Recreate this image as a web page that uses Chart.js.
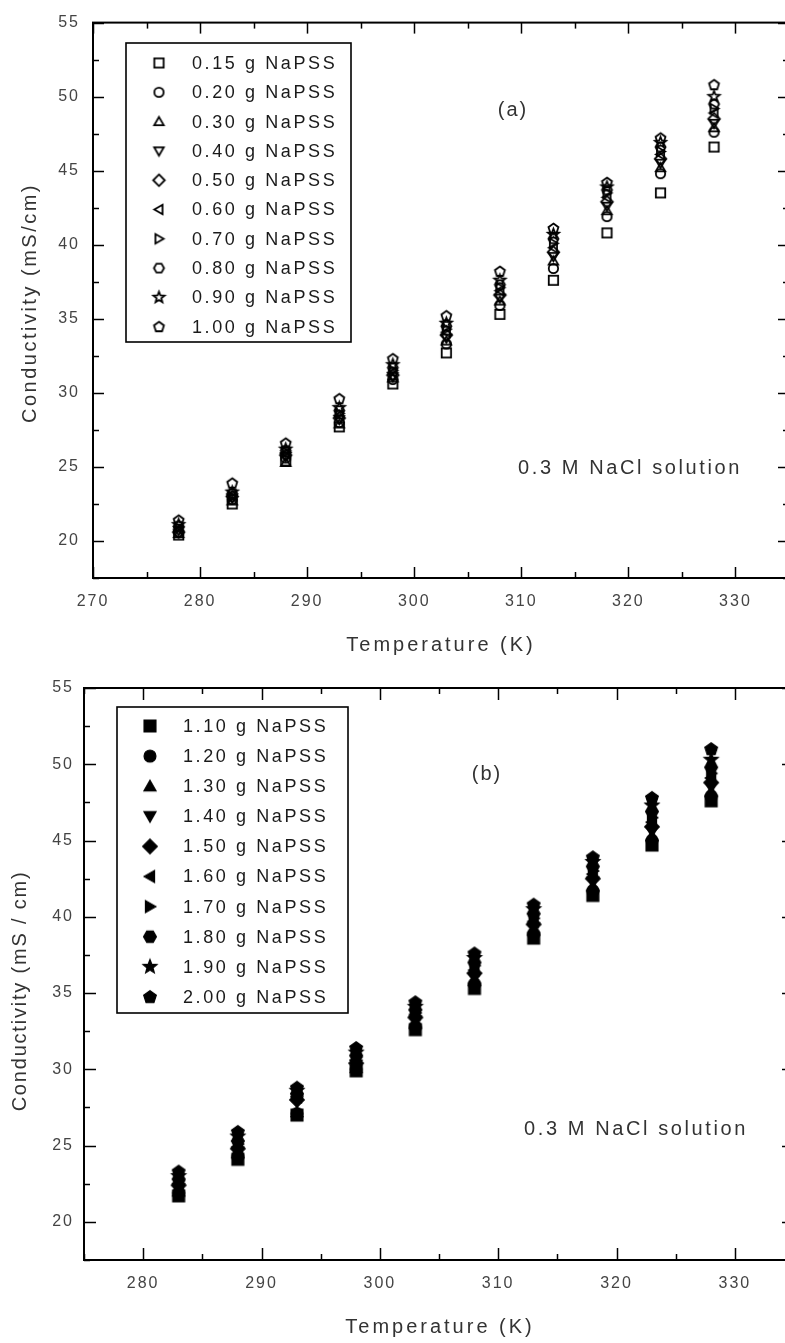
<!DOCTYPE html>
<html>
<head>
<meta charset="utf-8">
<script src="https://cdn.jsdelivr.net/npm/chart.js@4.4.0/dist/chart.umd.min.js"></script>
<style>
  html, body { margin: 0; padding: 0; background: #fff; overflow: hidden; width: 785px; height: 1343px; }
  #chartA { position: absolute; left: 0; top: 0; }
  #chartB { position: absolute; left: 0; top: 660px; }
</style>
</head>
<body>
<canvas id="chartA" width="800" height="660"></canvas>
<canvas id="chartB" width="800" height="683"></canvas>
<script>
// Temperaturas (K)
var temperaturesA = [278, 283, 288, 293, 298, 303, 308, 313, 318, 323, 328];
var temperaturesB = [283, 288, 293, 298, 303, 308, 313, 318, 323, 328];

// Ticks
var xTicksA = [270, 280, 290, 300, 310, 320, 330];
var xTicksB = [280, 290, 300, 310, 320, 330];
var yTicks = [20, 25, 30, 35, 40, 45, 50, 55];

// Leyendas
var labelsA = ['0.15 g NaPSS', '0.20 g NaPSS', '0.30 g NaPSS', '0.40 g NaPSS', '0.50 g NaPSS',
               '0.60 g NaPSS', '0.70 g NaPSS', '0.80 g NaPSS', '0.90 g NaPSS', '1.00 g NaPSS'];
var labelsB = ['1.10 g NaPSS', '1.20 g NaPSS', '1.30 g NaPSS', '1.40 g NaPSS', '1.50 g NaPSS',
               '1.60 g NaPSS', '1.70 g NaPSS', '1.80 g NaPSS', '1.90 g NaPSS', '2.00 g NaPSS'];

// Conductividad (mS/cm), panel (a)
var c015 = [20.4, 22.5, 25.4, 27.7, 30.6, 32.7, 35.3, 37.6, 40.8, 43.5, 46.6];
var c020 = [20.6, 22.8, 25.6, 28.0, 30.9, 33.3, 35.9, 38.4, 41.9, 44.8, 47.6];
var c030 = [20.5, 22.7, 25.3, 27.9, 31.0, 33.5, 36.2, 38.9, 42.3, 45.2, 47.9];
var c040 = [20.7, 22.9, 25.7, 28.2, 31.1, 33.7, 36.4, 39.2, 42.6, 45.5, 48.2];
var c050 = [20.6, 23.0, 25.8, 28.3, 31.2, 33.9, 36.6, 39.5, 42.9, 45.8, 48.5];
var c060 = [20.8, 23.1, 25.9, 28.5, 31.4, 34.1, 36.9, 39.8, 43.2, 46.1, 48.9];
var c070 = [20.9, 23.0, 26.0, 28.6, 31.5, 34.3, 37.1, 40.1, 43.5, 46.3, 49.2];
var c080 = [21.0, 23.2, 26.1, 28.8, 31.7, 34.5, 37.3, 40.4, 43.7, 46.6, 49.5];
var c090 = [21.1, 23.3, 26.2, 29.0, 31.9, 34.7, 37.6, 40.7, 43.9, 46.9, 50.0];
var c100 = [21.4, 23.9, 26.6, 29.6, 32.3, 35.2, 38.2, 41.1, 44.2, 47.2, 50.8];

// Conductividad (mS/cm), panel (b)
var c110 = [21.7, 24.1, 27.0, 29.9, 32.6, 35.3, 38.6, 41.4, 44.7, 47.6];
var c120 = [21.9, 24.3, 27.1, 30.0, 32.8, 35.6, 38.9, 41.7, 45.0, 47.9];
var c130 = [22.0, 24.5, 27.2, 30.1, 33.0, 35.8, 39.1, 42.0, 45.3, 48.2];
var c140 = [22.2, 24.6, 27.9, 30.3, 33.2, 36.0, 39.3, 42.3, 45.6, 48.5];
var c150 = [22.4, 24.8, 28.0, 30.4, 33.4, 36.3, 39.5, 42.5, 45.9, 48.8];
var c160 = [22.5, 24.9, 28.2, 30.6, 33.6, 36.5, 39.7, 42.8, 46.2, 49.1];
var c170 = [22.7, 25.1, 28.3, 30.8, 33.7, 36.8, 39.9, 43.0, 46.5, 49.4];
var c180 = [22.8, 25.3, 28.4, 30.9, 33.9, 37.0, 40.2, 43.3, 46.9, 49.8];
var c190 = [23.0, 25.6, 28.6, 31.1, 34.1, 37.3, 40.5, 43.6, 47.3, 50.3];
var c200 = [23.3, 25.9, 28.8, 31.4, 34.4, 37.6, 40.8, 43.9, 47.8, 51.0];

var seriesA = [c015, c020, c030, c040, c050, c060, c070, c080, c090, c100];
var seriesB = [c110, c120, c130, c140, c150, c160, c170, c180, c190, c200];

var shapes = ['square', 'circle', 'up', 'down', 'diamond', 'left', 'right', 'hexagon', 'star', 'pentagon'];

// Marcadores dibujados en un canvas pequeño
function polygon(g, cx, cy, r, n, startDeg) {
  for (var i = 0; i < n; i++) {
    var a = (startDeg + i * 360 / n) * Math.PI / 180;
    var px = cx + r * Math.cos(a), py = cy + r * Math.sin(a);
    if (i === 0) g.moveTo(px, py); else g.lineTo(px, py);
  }
  g.closePath();
}

function makeMarker(shape, filled) {
  var size = filled ? 14 : 11;
  var c = document.createElement('canvas');
  c.width = c.height = size + 6;
  var g = c.getContext('2d');
  var m = c.width / 2, r = size / 2;
  g.lineWidth = filled ? 1.2 : 1.8;
  g.strokeStyle = '#000';
  g.fillStyle = '#000';
  g.beginPath();
  switch (shape) {
    case 'square': g.rect(m - r * 0.85, m - r * 0.85, r * 1.7, r * 1.7); break;
    case 'circle': g.arc(m, m, r * 0.85, 0, Math.PI * 2); break;
    case 'up': polygon(g, m, m + r * 0.15, r, 3, -90); break;
    case 'down': polygon(g, m, m - r * 0.15, r, 3, 90); break;
    case 'left': polygon(g, m + r * 0.15, m, r, 3, 180); break;
    case 'right': polygon(g, m - r * 0.15, m, r, 3, 0); break;
    case 'diamond': polygon(g, m, m, r * 1.05, 4, -90); break;
    case 'hexagon': polygon(g, m, m, r * 0.92, 6, 0); break;
    case 'pentagon': polygon(g, m, m + r * 0.05, r * 0.95, 5, -90); break;
    case 'star':
      for (var i = 0; i < 10; i++) {
        var a = (-90 + i * 36) * Math.PI / 180;
        var rr = i % 2 === 0 ? r * 1.05 : r * 0.45;
        var px = m + rr * Math.cos(a), py = m + rr * Math.sin(a);
        if (i === 0) g.moveTo(px, py); else g.lineTo(px, py);
      }
      g.closePath();
      break;
  }
  if (filled) g.fill();
  g.stroke();
  return c;
}

function buildSets(temps, series, labels, filled) {
  return series.map(function (vals, k) {
    return {
      label: labels[k],
      data: temps.map(function (t, i) { return { x: t, y: vals[i] }; }),
      pointStyle: makeMarker(shapes[k], filled),
      pointRadius: 5,
      showLine: false
    };
  });
}

// Marco, ticks interiores, leyenda y textos
var panelPlugin = {
  id: 'panel',
  beforeLayout: function (chart) { chart.ctx.letterSpacing = '2px'; },
  beforeDraw: function (chart) { chart.ctx.letterSpacing = '2px'; },
  afterDraw: function (chart, args, o) {
    var ctx = chart.ctx, a = chart.chartArea;
    var xs = chart.scales.x, ys = chart.scales.y;
    ctx.save();
    ctx.strokeStyle = '#000';
    ctx.lineWidth = 1.5;
    function seg(x1, y1, x2, y2) { ctx.beginPath(); ctx.moveTo(x1, y1); ctx.lineTo(x2, y2); ctx.stroke(); }
    var majX = xs.ticks.map(function (t) { return t.value; });
    var majY = ys.ticks.map(function (t) { return t.value; });
    for (var v = Math.ceil(xs.min / 5) * 5; v <= xs.max; v += 5) {
      var px = Math.round(xs.getPixelForValue(v)) + 0.5;
      var len = majX.indexOf(v) >= 0 ? o.major : o.minor;
      seg(px, a.bottom, px, a.bottom - len);
      seg(px, a.top, px, a.top + len);
    }
    for (var w = Math.ceil(ys.min / 2.5) * 2.5; w <= ys.max; w += 2.5) {
      var py = Math.round(ys.getPixelForValue(w)) + 0.5;
      var len2 = majY.indexOf(w) >= 0 ? o.major : o.minor;
      seg(a.left, py, a.left + len2, py);
      seg(a.right, py, a.right - len2, py);
    }
    ctx.lineWidth = 2;
    ctx.strokeRect(a.left, a.top, a.right - a.left, a.bottom - a.top);

    // Leyenda
    var L = o.legend;
    ctx.fillStyle = '#fff';
    ctx.fillRect(L.left, L.top, L.right - L.left, L.bottom - L.top);
    ctx.lineWidth = 1.6;
    ctx.strokeRect(L.left, L.top, L.right - L.left, L.bottom - L.top);
    ctx.font = '18px Arial';
    ctx.letterSpacing = '2.6px';
    ctx.textAlign = 'left';
    ctx.textBaseline = 'middle';
    ctx.fillStyle = '#1a1a1a';
    chart.data.datasets.forEach(function (ds, k) {
      var y = L.y0 + k * L.dy;
      var img = ds.pointStyle;
      ctx.drawImage(img, L.mx - img.width / 2, y - img.height / 2);
      ctx.fillText(ds.label, L.tx, y + 1);
    });

    // Textos
    ctx.fillStyle = '#333';
    ctx.textAlign = 'center';
    ctx.font = '20px Arial';
    ctx.letterSpacing = '2px';
    ctx.fillText(o.tag.text, o.tag.x, o.tag.y);
    ctx.font = '20px Arial';
    ctx.letterSpacing = '2.6px';
    ctx.fillText(o.note.text, o.note.x, o.note.y);
    ctx.font = '20px Arial';
    ctx.letterSpacing = '3px';
    ctx.fillText(o.xTitle.text, o.xTitle.x, o.xTitle.y);
    ctx.translate(o.yTitle.x, o.yTitle.y);
    ctx.rotate(-Math.PI / 2);
    ctx.letterSpacing = o.yTitle.spacing;
    ctx.fillText(o.yTitle.text, 0, 0);
    ctx.restore();
  }
};

function scaleOpts(min, max, ticks, pad, fit, isX) {
  return {
    type: 'linear', min: min, max: max,
    grid: { display: false, drawTicks: false },
    border: { display: false },
    ticks: { padding: pad, color: '#444', font: { family: 'Arial', size: 16 } },
    afterBuildTicks: function (s) { s.ticks = ticks.map(function (v) { return { value: v }; }); },
    afterFit: function (s) { if (isX) s.height = fit; else s.width = fit; }
  };
}

var chartA = new Chart(document.getElementById('chartA'), {
  type: 'scatter',
  data: { datasets: buildSets(temperaturesA, seriesA, labelsA, false) },
  options: {
    responsive: false,
    animation: false,
    layout: { padding: { left: 0, top: 20, right: 11, bottom: 0 } },
    plugins: {
      legend: { display: false },
      tooltip: { enabled: false },
      panel: {
        major: 11, minor: 6,
        legend: { left: 126, top: 43, right: 351, bottom: 342, y0: 63, dy: 29.3, mx: 159, tx: 192 },
        tag: { text: '(a)', x: 513, y: 110 },
        note: { text: '0.3 M NaCl solution', x: 630, y: 468 },
        xTitle: { text: 'Temperature (K)', x: 441, y: 645 },
        yTitle: { text: 'Conductivity (mS/cm)', x: 30, y: 303, spacing: '2.5px' }
      }
    },
    scales: {
      x: scaleOpts(270, 335, xTicksA, 14, 82, true),
      y: scaleOpts(17.5, 55, yTicks, 13, 93, false)
    }
  },
  plugins: [panelPlugin]
});

var chartB = new Chart(document.getElementById('chartB'), {
  type: 'scatter',
  data: { datasets: buildSets(temperaturesB, seriesB, labelsB, true) },
  options: {
    responsive: false,
    animation: false,
    layout: { padding: { left: 0, top: 28, right: 5, bottom: 0 } },
    plugins: {
      legend: { display: false },
      tooltip: { enabled: false },
      panel: {
        major: 12, minor: 6,
        legend: { left: 117, top: 47, right: 348, bottom: 353, y0: 66, dy: 30.1, mx: 150, tx: 183 },
        tag: { text: '(b)', x: 487, y: 114 },
        note: { text: '0.3 M NaCl solution', x: 636, y: 469 },
        xTitle: { text: 'Temperature (K)', x: 440, y: 667 },
        yTitle: { text: 'Conductivity (mS / cm)', x: 20, y: 331, spacing: '1.8px' }
      }
    },
    scales: {
      x: scaleOpts(275, 335, xTicksB, 14, 83, true),
      y: scaleOpts(17.5, 55, yTicks, 10, 84, false)
    }
  },
  plugins: [panelPlugin]
});
</script>
</body>
</html>
